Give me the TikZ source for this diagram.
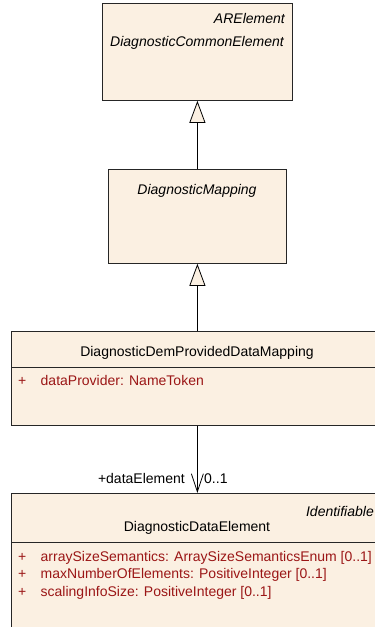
\documentclass[tikz,border=0pt]{standalone}
\usepackage{fontspec}
\setmainfont{Liberation Sans}
\usetikzlibrary{positioning,arrows.meta}
\definecolor{umlfill}{RGB}{251,240,226}
\definecolor{umlattr}{RGB}{155,22,22}
\newcommand{\umlfont}{\fontsize{14}{17}\selectfont}
\tikzset{
  classbox/.style={draw=black!85, fill=umlfill, line width=0.8pt, rectangle, inner sep=0pt, anchor=north west},
  classline/.style={draw=black!85, line width=0.8pt},
  umltext/.style={inner sep=0pt, font=\umlfont},
  stereo/.style={umltext, font=\umlfont\itshape, anchor=base east},
  attr/.style={umltext, text=umlattr, anchor=base west},
  gen/.style={line width=0.8pt, -{Triangle[length=22pt, width=16pt, fill=umlfill, line width=0.8pt]}},
  assoc/.style={line width=0.8pt, -{Straight Barb[length=18pt, width=12pt, line width=0.8pt]}},
}

\begin{document}
\begin{tikzpicture}[x=1pt, y=1pt]
        \useasboundingbox (0,0) rectangle (375,-627);
        % classes
        \node[classbox, minimum width=190pt, minimum height=97pt] (common) at (102,-3) {};
        \node[classbox, minimum width=178pt, minimum height=94pt] (mapping) at (108,-169) {};
        \node[classbox, minimum width=372pt, minimum height=94pt] (demMapping) at (11,-331) {};
        \node[classbox, minimum width=372pt, minimum height=150pt] (dataElem) at (11,-493) {};

        % compartments
        \draw[classline] ([yshift=-36pt]demMapping.north west) -- ([yshift=-36pt]demMapping.north east);
        \draw[classline] ([yshift=-49pt]dataElem.north west) -- ([yshift=-49pt]dataElem.north east);

        % names
        \node[stereo] (commonStereo) at (285,-23) {ARElement};
        \node[umltext, font=\umlfont\itshape, anchor=base] (commonName) at (197,-46) {DiagnosticCommonElement};
        \node[umltext, font=\umlfont\itshape, anchor=base] (mappingName) at (197,-194) {DiagnosticMapping};
        \node[umltext, anchor=base] (demMappingName) at (197,-356) {DiagnosticDemProvidedDataMapping};
        \node[stereo] (dataElemStereo) at (374,-516) {Identifiable};
        \node[umltext, anchor=base] (dataElemName) at (197,-531) {DiagnosticDataElement};

        % attributes
        \node[attr] (plusProvider) at (18,-385) {+};
        \node[attr] (attrProvider) at (40.5,-385) {dataProvider: NameToken};
        \node[attr] (plusArray) at (18,-561) {+};
        \node[attr] (attrArray) at (40.5,-561) {arraySizeSemantics: ArraySizeSemanticsEnum [0..1]};
        \node[attr] (plusMax) at (18,-578.5) {+};
        \node[attr] (attrMax) at (40.5,-578.5) {maxNumberOfElements: PositiveInteger [0..1]};
        \node[attr] (plusScaling) at (18,-596) {+};
        \node[attr] (attrScaling) at (40.5,-596) {scalingInfoSize: PositiveInteger [0..1]};

        % relations
        \draw[gen] (mapping.north) -- (common.south);
        \draw[gen] (demMapping.north) -- (mapping.south);
        \draw[assoc] (demMapping.south) -- (dataElem.north);
        \node[umltext, anchor=base east] (roleLbl) at (185,-483) {+dataElement};
        \node[umltext, anchor=base west] (multLbl) at (204,-483) {0..1};
\end{tikzpicture}
\end{document}
